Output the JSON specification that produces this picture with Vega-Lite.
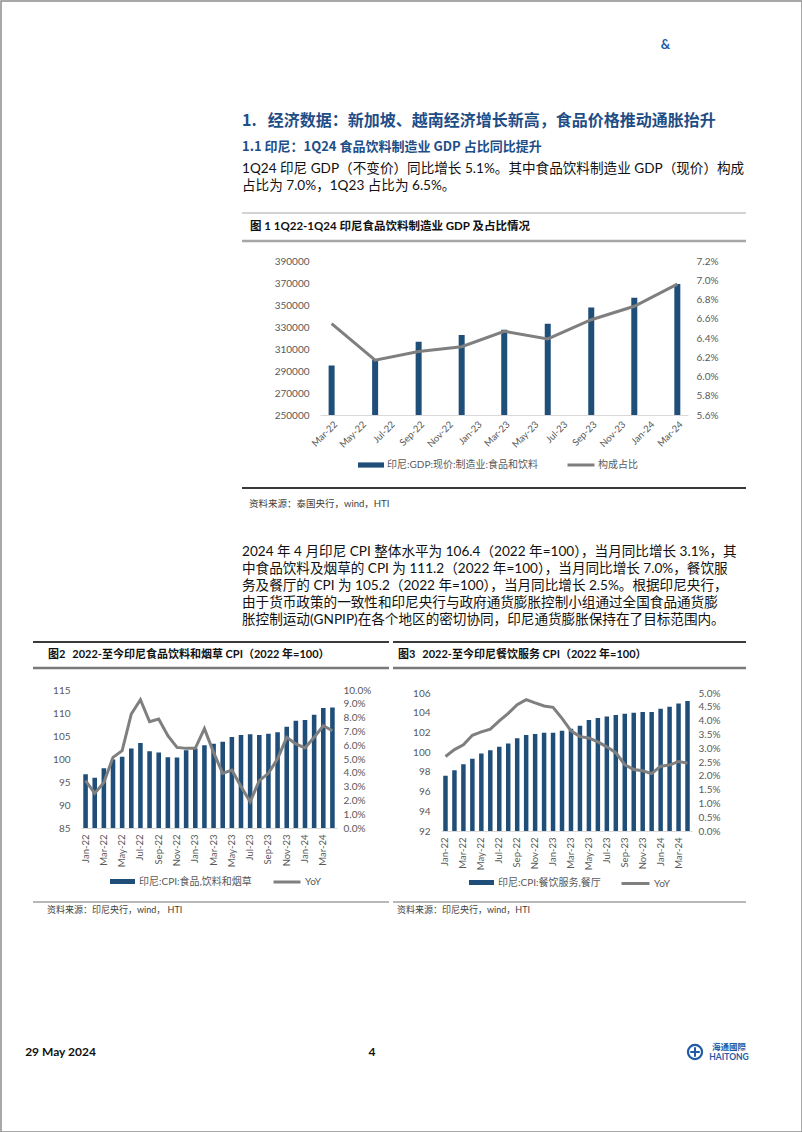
{
  "$schema": "https://vega.github.io/schema/vega-lite/v6.json",
  "background": "white",
  "padding": 0,
  "bounds": "flush",
  "spacing": 0,
  "resolve": {"scale": {"fill": "independent", "stroke": "independent"}, "legend": {"fill": "independent", "stroke": "independent"}},
  "config": {
    "view": {"stroke": null},
    "font": "Lato, 'Noto Sans CJK SC', sans-serif",
    "axis": {"labelFont": "Lato, 'Noto Sans CJK SC', sans-serif", "labelColor": "#595959", "labelFontSize": 10, "grid": false, "ticks": false, "domain": false},
    "legend": {"padding": 0, "labelFont": "Lato, 'Noto Sans CJK SC', sans-serif", "labelFontSize": 10, "labelColor": "#595959"}
  },
  "vconcat": [
    {"hconcat": [
      {"width": 801, "height": 1131, "view": {"stroke": "#8c8c8c", "strokeWidth": 1.5}, "data": {"values": []}, "mark": "point"}
    ], "bounds": "flush", "spacing": 0},
    {"hconcat": [
      {"width": 656, "height": 88, "data": {"values": []}, "mark": "point"},
      {"width": 17, "height": 88, "data": {"values": [{"t": "&"}]}, "mark": {"type": "text", "fontSize": 13, "fontWeight": "bold", "color": "#1f5aa6"}, "encoding": {"text": {"field": "t"}}}
    ], "bounds": "flush", "spacing": 0},
    {"width": 1, "height": 106, "data": {"values": []}, "mark": "point"},
    {"hconcat": [
      {"width": 241, "height": 27, "data": {"values": []}, "mark": "point"},
      {"width": 504, "height": 27, "data": {"values": [{"t": "1.\u2002\u2009经济数据：新加坡、越南经济增长新高，食品价格推动通胀抬升"}]},
       "mark": {"type": "text", "align": "left", "baseline": "middle", "fontSize": 16, "fontWeight": "bold", "color": "#1f4e87", "font": "'Noto Sans CJK SC', sans-serif"},
       "encoding": {"text": {"field": "t"}, "x": {"datum": "start", "type": "nominal", "scale": {"type": "point", "domain": ["start", "end"], "padding": 0}, "axis": null}}}
    ], "bounds": "flush", "spacing": 0},
    {"width": 1, "height": 27, "data": {"values": []}, "mark": "point"},
    {"hconcat": [
      {"width": 241, "height": 26, "data": {"values": []}, "mark": "point"},
      {"width": 504, "height": 26, "data": {"values": [{"t": "1.1 印尼：1Q24 食品饮料制造业 GDP 占比同比提升"}]},
       "mark": {"type": "text", "align": "left", "baseline": "middle", "fontSize": 13, "fontWeight": "bold", "color": "#1f4e87", "font": "'Noto Sans CJK SC', sans-serif"},
       "encoding": {"text": {"field": "t"}, "x": {"datum": "start", "type": "nominal", "scale": {"type": "point", "domain": ["start", "end"], "padding": 0}, "axis": null}}}
    ], "bounds": "flush", "spacing": 0},
    {"width": 1, "height": 26, "data": {"values": []}, "mark": "point"},
    {"hconcat": [
      {"width": 241, "height": 35, "data": {"values": []}, "mark": "point"},
      {"width": 504, "height": 35, "data": {"values": [
        {"line": 1, "t": "1Q24 印尼 GDP（不变价）同比增长 5.1%。其中食品饮料制造业 GDP（现价）构成"},
        {"line": 2, "t": "占比为 7.0%，1Q23 占比为 6.5%。"}
       ]},
       "mark": {"type": "text", "align": "left", "baseline": "middle", "fontSize": 13.6, "color": "#111111"},
       "encoding": {"text": {"field": "t"},
         "y": {"field": "line", "type": "ordinal", "scale": {"type": "point", "padding": 0.5}, "axis": null},
         "x": {"datum": "start", "type": "nominal", "scale": {"type": "point", "domain": ["start", "end"], "padding": 0}, "axis": null}}}
    ], "bounds": "flush", "spacing": 0},
    {"width": 1, "height": 53, "data": {"values": []}, "mark": "point"},
    {"hconcat": [
      {"width": 241, "height": 28, "data": {"values": []}, "mark": "point"},
      {"width": 504, "height": 28, "data": {"values": [{"t": "图 1 1Q22-1Q24 印尼食品饮料制造业 GDP 及占比情况"}]},
       "layer": [
         {"mark": {"type": "rule", "color": "#a6a6a6", "strokeWidth": 1}, "encoding": {"y": {"datum": "top", "type": "nominal", "scale": {"type": "point", "domain": ["top", "bottom"], "padding": 0}, "axis": null}}},
         {"mark": {"type": "rule", "color": "#a6a6a6", "strokeWidth": 2.5}, "encoding": {"y": {"datum": "bottom", "type": "nominal", "axis": null}}},
         {"mark": {"type": "text", "align": "left", "baseline": "middle", "dx": 8, "fontSize": 11.5, "fontWeight": "bold", "color": "#111111"},
          "encoding": {"text": {"field": "t"}, "x": {"datum": "start", "type": "nominal", "scale": {"type": "point", "domain": ["start", "end"], "padding": 0}, "axis": null}}}
       ]}
    ], "bounds": "flush", "spacing": 0},
    {"width": 1, "height": 48, "data": {"values": []}, "mark": "point"},
    {"hconcat": [
      {"width": 319, "height": 154, "data": {"values": []}, "mark": "point"},
      {"width": 368, "height": 154,
       "data": {"values": [
         {"date": "2022-03-01", "gdp": 295000, "share": 0.0655},
         {"date": "2022-06-01", "gdp": 300500, "share": 0.0617},
         {"date": "2022-09-01", "gdp": 316500, "share": 0.0626},
         {"date": "2022-12-01", "gdp": 322700, "share": 0.0631},
         {"date": "2023-03-01", "gdp": 327500, "share": 0.0647},
         {"date": "2023-06-01", "gdp": 333000, "share": 0.0639},
         {"date": "2023-09-01", "gdp": 347800, "share": 0.0659},
         {"date": "2023-12-01", "gdp": 356600, "share": 0.0673},
         {"date": "2024-03-01", "gdp": 369000, "share": 0.0696}
       ]},
       "encoding": {"x": {"field": "date", "type": "temporal",
         "scale": {"domain": [{"year": 2022, "month": 2, "date": 15}, {"year": 2024, "month": 3, "date": 13}]},
         "axis": {"title": null, "format": "%b-%y", "tickCount": {"interval": "month", "step": 2}, "labelAngle": -45, "labelOverlap": false, "labelFlush": false, "domain": true, "domainColor": "#d9d9d9", "labelPadding": 4, "labelFontSize": 9.5}}},
       "layer": [
         {"mark": {"type": "bar", "width": 6, "clip": true},
          "encoding": {
            "y": {"field": "gdp", "type": "quantitative", "scale": {"domain": [250000, 390000], "nice": false, "zero": false},
                  "axis": {"orient": "left", "title": null, "format": "d", "values": [250000, 270000, 290000, 310000, 330000, 350000, 370000, 390000], "labelPadding": 11}},
            "fill": {"datum": "印尼:GDP:现价:制造业:食品和饮料", "type": "nominal", "scale": {"range": ["#1f4e79"]},
                     "legend": {"orient": "none", "legendX": 37, "legendY": 190, "title": null, "symbolType": "M-1,-0.2H1V0.2H-1Z", "symbolSize": 676, "labelOffset": 2}}}},
         {"mark": {"type": "line", "strokeWidth": 3},
          "encoding": {
            "y": {"field": "share", "type": "quantitative", "scale": {"domain": [0.056, 0.072], "nice": false, "zero": false},
                  "axis": {"orient": "right", "title": null, "format": ".1%", "values": [0.056, 0.058, 0.06, 0.062, 0.064, 0.066, 0.068, 0.07, 0.072], "labelPadding": 8}},
            "stroke": {"datum": "构成占比", "type": "nominal", "scale": {"range": ["#7f7f7f"]},
                       "legend": {"orient": "none", "legendX": 246, "legendY": 189, "title": null, "symbolType": "stroke", "symbolSize": 729, "symbolStrokeWidth": 3, "labelOffset": 2}}}}
       ],
       "resolve": {"scale": {"y": "independent"}}}
    ], "bounds": "flush", "spacing": 0, "resolve": {"scale": {"fill": "independent", "stroke": "independent"}, "legend": {"fill": "independent", "stroke": "independent"}}},
    {"width": 1, "height": 227, "data": {"values": []}, "mark": "point"},
    {"hconcat": [
      {"width": 241, "height": 32, "data": {"values": []}, "mark": "point"},
      {"width": 504, "height": 32, "data": {"values": [{"t": "资料来源：泰国央行，wind，HTI"}]},
       "layer": [
         {"mark": {"type": "rule", "color": "#3a3a3a", "strokeWidth": 2}, "encoding": {"y": {"datum": "top", "type": "nominal", "scale": {"type": "point", "domain": ["top", "bottom"], "padding": 0}, "axis": null}}},
         {"mark": {"type": "text", "align": "left", "baseline": "middle", "dx": 7, "fontSize": 9.5, "color": "#404040"},
          "encoding": {"text": {"field": "t"}, "x": {"datum": "start", "type": "nominal", "scale": {"type": "point", "domain": ["start", "end"], "padding": 0}, "axis": null}}}
       ]}
    ], "bounds": "flush", "spacing": 0},
    {"width": 1, "height": 55, "data": {"values": []}, "mark": "point"},
    {"hconcat": [
      {"width": 241, "height": 85, "data": {"values": []}, "mark": "point"},
      {"width": 504, "height": 85, "data": {"values": [
        {"line": 1, "t": "2024 年 4 月印尼 CPI 整体水平为 106.4（2022 年=100），当月同比增长 3.1%，其"},
        {"line": 2, "t": "中食品饮料及烟草的 CPI 为 111.2（2022 年=100），当月同比增长 7.0%，餐饮服"},
        {"line": 3, "t": "务及餐厅的 CPI 为 105.2（2022 年=100），当月同比增长 2.5%。根据印尼央行，"},
        {"line": 4, "t": "由于货币政策的一致性和印尼央行与政府通货膨胀控制小组通过全国食品通货膨"},
        {"line": 5, "t": "胀控制运动(GNPIP)在各个地区的密切协同，印尼通货膨胀保持在了目标范围内。"}
       ]},
       "mark": {"type": "text", "align": "left", "baseline": "middle", "fontSize": 13.6, "color": "#111111"},
       "encoding": {"text": {"field": "t"},
         "y": {"field": "line", "type": "ordinal", "scale": {"type": "point", "padding": 0.5}, "axis": null},
         "x": {"datum": "start", "type": "nominal", "scale": {"type": "point", "domain": ["start", "end"], "padding": 0}, "axis": null}}}
    ], "bounds": "flush", "spacing": 0},
    {"width": 1, "height": 99, "data": {"values": []}, "mark": "point"},
    {"hconcat": [
      {"width": 32, "height": 26, "data": {"values": []}, "mark": "point"},
      {"width": 356, "height": 26, "data": {"values": [{"t": "图2\u2002\u20092022-至今印尼食品饮料和烟草 CPI（2022 年=100）"}]},
       "layer": [
         {"mark": {"type": "rule", "color": "#3a3a3a", "strokeWidth": 2}, "encoding": {"y": {"datum": "top", "type": "nominal", "scale": {"type": "point", "domain": ["top", "bottom"], "padding": 0}, "axis": null}}},
         {"mark": {"type": "rule", "color": "#7a7a7a", "strokeWidth": 2.5}, "encoding": {"y": {"datum": "bottom", "type": "nominal", "axis": null}}},
         {"mark": {"type": "text", "align": "left", "baseline": "middle", "dx": 15, "fontSize": 11, "fontWeight": "bold", "color": "#111111"},
          "encoding": {"text": {"field": "t"}, "x": {"datum": "start", "type": "nominal", "scale": {"type": "point", "domain": ["start", "end"], "padding": 0}, "axis": null}}}
       ]},
      {"width": 4, "height": 26, "data": {"values": []}, "mark": "point"},
      {"width": 353, "height": 26, "data": {"values": [{"t": "图3\u2002\u20092022-至今印尼餐饮服务 CPI（2022 年=100）"}]},
       "layer": [
         {"mark": {"type": "rule", "color": "#3a3a3a", "strokeWidth": 2}, "encoding": {"y": {"datum": "top", "type": "nominal", "scale": {"type": "point", "domain": ["top", "bottom"], "padding": 0}, "axis": null}}},
         {"mark": {"type": "rule", "color": "#7a7a7a", "strokeWidth": 2.5}, "encoding": {"y": {"datum": "bottom", "type": "nominal", "axis": null}}},
         {"mark": {"type": "text", "align": "left", "baseline": "middle", "dx": 5, "fontSize": 11, "fontWeight": "bold", "color": "#111111"},
          "encoding": {"text": {"field": "t"}, "x": {"datum": "start", "type": "nominal", "scale": {"type": "point", "domain": ["start", "end"], "padding": 0}, "axis": null}}}
       ]}
    ], "bounds": "flush", "spacing": 0},
    {"width": 1, "height": 48, "data": {"values": []}, "mark": "point"},
    {"hconcat": [
      {"width": 80, "height": 138, "data": {"values": []}, "mark": "point"},
      {"width": 256, "height": 138,
       "data": {"values": [
         {"m": "Jan-22", "cpi": 96.7, "yoy": 0.0343},
         {"m": "Feb-22", "cpi": 95.9, "yoy": 0.0251},
         {"m": "Mar-22", "cpi": 98.0, "yoy": 0.033},
         {"m": "Apr-22", "cpi": 99.9, "yoy": 0.0512},
         {"m": "May-22", "cpi": 100.5, "yoy": 0.056},
         {"m": "Jun-22", "cpi": 102.3, "yoy": 0.0826},
         {"m": "Jul-22", "cpi": 103.5, "yoy": 0.093},
         {"m": "Aug-22", "cpi": 101.7, "yoy": 0.077},
         {"m": "Sep-22", "cpi": 101.4, "yoy": 0.079},
         {"m": "Oct-22", "cpi": 100.4, "yoy": 0.0669},
         {"m": "Nov-22", "cpi": 100.3, "yoy": 0.0584},
         {"m": "Dec-22", "cpi": 101.9, "yoy": 0.0577},
         {"m": "Jan-23", "cpi": 102.3, "yoy": 0.0577},
         {"m": "Feb-23", "cpi": 103.0, "yoy": 0.072},
         {"m": "Mar-23", "cpi": 103.3, "yoy": 0.0548},
         {"m": "Apr-23", "cpi": 103.75, "yoy": 0.0396},
         {"m": "May-23", "cpi": 104.8, "yoy": 0.042},
         {"m": "Jun-23", "cpi": 105.2, "yoy": 0.0301},
         {"m": "Jul-23", "cpi": 105.4, "yoy": 0.019},
         {"m": "Aug-23", "cpi": 105.2, "yoy": 0.0343},
         {"m": "Sep-23", "cpi": 105.5, "yoy": 0.0396},
         {"m": "Oct-23", "cpi": 105.8, "yoy": 0.0502},
         {"m": "Nov-23", "cpi": 107.0, "yoy": 0.0657},
         {"m": "Dec-23", "cpi": 108.3, "yoy": 0.0609},
         {"m": "Jan-24", "cpi": 108.5, "yoy": 0.058},
         {"m": "Feb-24", "cpi": 109.6, "yoy": 0.0657},
         {"m": "Mar-24", "cpi": 111.1, "yoy": 0.0741},
         {"m": "Apr-24", "cpi": 111.2, "yoy": 0.0705}
       ]},
       "encoding": {"x": {"field": "m", "type": "ordinal", "sort": null, "scale": {"paddingInner": 0.5, "paddingOuter": 0.25},
         "axis": {"title": null, "values": ["Jan-22", "Mar-22", "May-22", "Jul-22", "Sep-22", "Nov-22", "Jan-23", "Mar-23", "May-23", "Jul-23", "Sep-23", "Nov-23", "Jan-24", "Mar-24"], "labelAngle": -90, "labelOverlap": false, "domain": true, "domainColor": "#d9d9d9", "labelPadding": 6, "labelFontSize": 9.5}}},
       "layer": [
         {"mark": {"type": "bar", "clip": true},
          "encoding": {
            "y": {"field": "cpi", "type": "quantitative", "scale": {"domain": [85, 115], "nice": false, "zero": false},
                  "axis": {"orient": "left", "title": null, "values": [85, 90, 95, 100, 105, 110, 115], "labelPadding": 11}},
            "fill": {"datum": "印尼:CPI:食品,饮料和烟草", "type": "nominal", "scale": {"range": ["#1f4e79"]},
                     "legend": {"orient": "none", "legendX": 28, "legendY": 178, "title": null, "symbolType": "M-1,-0.2H1V0.2H-1Z", "symbolSize": 625, "labelOffset": 3}}}},
         {"mark": {"type": "line", "strokeWidth": 3},
          "encoding": {
            "y": {"field": "yoy", "type": "quantitative", "scale": {"domain": [0, 0.1], "nice": false},
                  "axis": {"orient": "right", "title": null, "format": ".1%", "values": [0, 0.01, 0.02, 0.03, 0.04, 0.05, 0.06, 0.07, 0.08, 0.09, 0.1], "labelPadding": 6}},
            "stroke": {"datum": "YoY", "type": "nominal", "scale": {"range": ["#7f7f7f"]},
                       "legend": {"orient": "none", "legendX": 191, "legendY": 177, "title": null, "symbolType": "stroke", "symbolSize": 729, "symbolStrokeWidth": 3, "labelOffset": 3}}}}
       ],
       "resolve": {"scale": {"y": "independent"}}}
    ], "bounds": "flush", "spacing": 0, "resolve": {"scale": {"fill": "independent", "stroke": "independent"}, "legend": {"fill": "independent", "stroke": "independent"}}},
    {"width": 1, "height": 3, "data": {"values": []}, "mark": "point"},
    {"hconcat": [
      {"width": 440, "height": 138, "data": {"values": []}, "mark": "point"},
      {"width": 251, "height": 138,
       "data": {"values": [
         {"m": "Jan-22", "cpi": 97.6, "yoy": 0.027},
         {"m": "Feb-22", "cpi": 98.17, "yoy": 0.0295},
         {"m": "Mar-22", "cpi": 98.78, "yoy": 0.0312},
         {"m": "Apr-22", "cpi": 99.32, "yoy": 0.0347},
         {"m": "May-22", "cpi": 99.86, "yoy": 0.0359},
         {"m": "Jun-22", "cpi": 100.2, "yoy": 0.0369},
         {"m": "Jul-22", "cpi": 100.54, "yoy": 0.0399},
         {"m": "Aug-22", "cpi": 100.88, "yoy": 0.0426},
         {"m": "Sep-22", "cpi": 101.42, "yoy": 0.0458},
         {"m": "Oct-22", "cpi": 101.73, "yoy": 0.0476},
         {"m": "Nov-22", "cpi": 101.83, "yoy": 0.0464},
         {"m": "Dec-22", "cpi": 101.96, "yoy": 0.0453},
         {"m": "Jan-23", "cpi": 101.96, "yoy": 0.0448},
         {"m": "Feb-23", "cpi": 102.17, "yoy": 0.0408},
         {"m": "Mar-23", "cpi": 102.37, "yoy": 0.0363},
         {"m": "Apr-23", "cpi": 102.68, "yoy": 0.0342},
         {"m": "May-23", "cpi": 103.25, "yoy": 0.0337},
         {"m": "Jun-23", "cpi": 103.46, "yoy": 0.0323},
         {"m": "Jul-23", "cpi": 103.62, "yoy": 0.0305},
         {"m": "Aug-23", "cpi": 103.76, "yoy": 0.0284},
         {"m": "Sep-23", "cpi": 103.9, "yoy": 0.024},
         {"m": "Oct-23", "cpi": 104.0, "yoy": 0.0223},
         {"m": "Nov-23", "cpi": 104.07, "yoy": 0.0218},
         {"m": "Dec-23", "cpi": 104.07, "yoy": 0.0208},
         {"m": "Jan-24", "cpi": 104.4, "yoy": 0.0235},
         {"m": "Feb-24", "cpi": 104.6, "yoy": 0.0239},
         {"m": "Mar-24", "cpi": 104.94, "yoy": 0.0252},
         {"m": "Apr-24", "cpi": 105.2, "yoy": 0.0246}
       ]},
       "encoding": {"x": {"field": "m", "type": "ordinal", "sort": null, "scale": {"paddingInner": 0.5, "paddingOuter": 0.25},
         "axis": {"title": null, "values": ["Jan-22", "Mar-22", "May-22", "Jul-22", "Sep-22", "Nov-22", "Jan-23", "Mar-23", "May-23", "Jul-23", "Sep-23", "Nov-23", "Jan-24", "Mar-24"], "labelAngle": -90, "labelOverlap": false, "domain": true, "domainColor": "#d9d9d9", "labelPadding": 6, "labelFontSize": 9.5}}},
       "layer": [
         {"mark": {"type": "bar", "clip": true},
          "encoding": {
            "y": {"field": "cpi", "type": "quantitative", "scale": {"domain": [92, 106], "nice": false, "zero": false},
                  "axis": {"orient": "left", "title": null, "values": [92, 94, 96, 98, 100, 102, 104, 106], "labelPadding": 11}},
            "fill": {"datum": "印尼:CPI:餐饮服务,餐厅", "type": "nominal", "scale": {"range": ["#1f4e79"]},
                     "legend": {"orient": "none", "legendX": 27, "legendY": 176, "title": null, "symbolType": "M-1,-0.2H1V0.2H-1Z", "symbolSize": 625, "labelOffset": 3}}}},
         {"mark": {"type": "line", "strokeWidth": 3},
          "encoding": {
            "y": {"field": "yoy", "type": "quantitative", "scale": {"domain": [0, 0.05], "nice": false},
                  "axis": {"orient": "right", "title": null, "format": ".1%", "values": [0, 0.005, 0.01, 0.015, 0.02, 0.025, 0.03, 0.035, 0.04, 0.045, 0.05], "labelPadding": 6}},
            "stroke": {"datum": "YoY", "type": "nominal", "scale": {"range": ["#7f7f7f"]},
                       "legend": {"orient": "none", "legendX": 179, "legendY": 175, "title": null, "symbolType": "stroke", "symbolSize": 784, "symbolStrokeWidth": 3, "labelOffset": 3}}}}
       ],
       "resolve": {"scale": {"y": "independent"}}}
    ], "bounds": "flush", "spacing": 0, "resolve": {"scale": {"fill": "independent", "stroke": "independent"}, "legend": {"fill": "independent", "stroke": "independent"}}},
    {"width": 1, "height": 209, "data": {"values": []}, "mark": "point"},
    {"hconcat": [
      {"width": 32, "height": 16, "data": {"values": []}, "mark": "point"},
      {"width": 356, "height": 16, "data": {"values": [{"t": "资料来源：印尼央行，wind， HTI"}]},
       "layer": [
         {"mark": {"type": "rule", "color": "#a0a0a0", "strokeWidth": 1.5}, "encoding": {"y": {"datum": "top", "type": "nominal", "scale": {"type": "point", "domain": ["top", "bottom"], "padding": 0}, "axis": null}}},
         {"mark": {"type": "text", "align": "left", "baseline": "middle", "dx": 14, "fontSize": 9, "color": "#404040"},
          "encoding": {"text": {"field": "t"}, "x": {"datum": "start", "type": "nominal", "scale": {"type": "point", "domain": ["start", "end"], "padding": 0}, "axis": null}}}
       ]},
      {"width": 4, "height": 16, "data": {"values": []}, "mark": "point"},
      {"width": 353, "height": 16, "data": {"values": [{"t": "资料来源：印尼央行，wind，HTI"}]},
       "layer": [
         {"mark": {"type": "rule", "color": "#a0a0a0", "strokeWidth": 1.5}, "encoding": {"y": {"datum": "top", "type": "nominal", "scale": {"type": "point", "domain": ["top", "bottom"], "padding": 0}, "axis": null}}},
         {"mark": {"type": "text", "align": "left", "baseline": "middle", "dx": 4, "fontSize": 9, "color": "#404040"},
          "encoding": {"text": {"field": "t"}, "x": {"datum": "start", "type": "nominal", "scale": {"type": "point", "domain": ["start", "end"], "padding": 0}, "axis": null}}}
       ]}
    ], "bounds": "flush", "spacing": 0},
    {"width": 1, "height": 140, "data": {"values": []}, "mark": "point"},
    {"hconcat": [
      {"width": 24, "height": 20, "data": {"values": []}, "mark": "point"},
      {"width": 71, "height": 20, "data": {"values": [{"t": "29 May 2024"}]}, "mark": {"type": "text", "fontSize": 12, "fontWeight": "bold", "color": "#111111"}, "encoding": {"text": {"field": "t"}}},
      {"width": 266, "height": 20, "data": {"values": []}, "mark": "point"},
      {"width": 20, "height": 20, "data": {"values": [{"t": "4"}]}, "mark": {"type": "text", "fontSize": 12, "fontWeight": "bold", "color": "#111111"}, "encoding": {"text": {"field": "t"}}},
      {"width": 305, "height": 20, "data": {"values": []}, "mark": "point"},
      {"width": 16, "height": 20, "data": {"values": [{"t": "logo"}]},
       "layer": [
         {"mark": {"type": "point", "shape": "circle", "size": 200, "filled": false, "stroke": "#1f5aa6", "strokeWidth": 2.2, "opacity": 1}},
         {"mark": {"type": "point", "shape": "M-1,0H1M0,-1V1", "size": 90, "filled": false, "stroke": "#1f5aa6", "strokeWidth": 2, "opacity": 1}}
       ]},
      {"width": 8, "height": 20, "data": {"values": []}, "mark": "point"},
      {"width": 36, "height": 20, "data": {"values": [{"line": 1, "t": "海通國際"}, {"line": 2, "t": "HAITONG"}]},
       "mark": {"type": "text", "fontSize": 8.5, "fontWeight": "bold", "color": "#1f5aa6"},
       "encoding": {"text": {"field": "t"}, "y": {"field": "line", "type": "ordinal", "scale": {"type": "point", "padding": 0.5}, "axis": null}}}
    ], "bounds": "flush", "spacing": 0}
  ]
}
